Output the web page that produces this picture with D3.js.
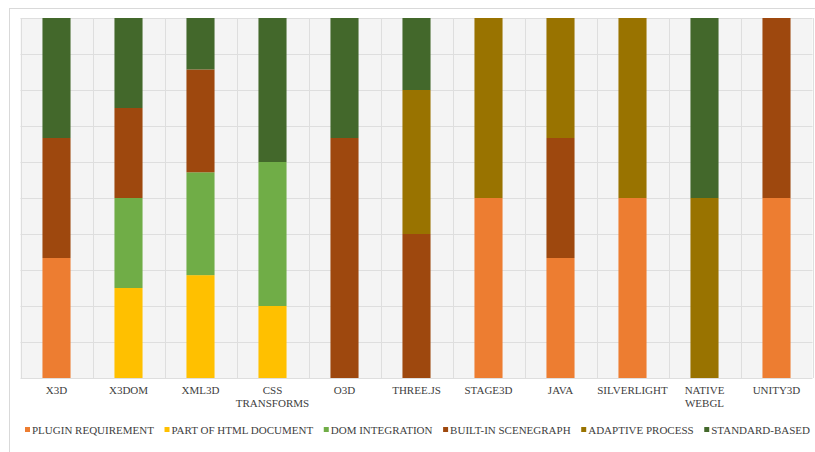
<!DOCTYPE html>
<html>
<head>
<meta charset="utf-8">
<script src="https://cdnjs.cloudflare.com/ajax/libs/d3/7.8.5/d3.min.js"></script>
<style>
  body { margin: 0; background: #fff; }
  svg text { font-family: "Liberation Serif", "DejaVu Serif", serif; }
</style>
</head>
<body>
<svg id="chart" width="815" height="452"></svg>
<script>
const categories = ["X3D", "X3DOM", "XML3D", "CSS TRANSFORMS", "O3D", "THREE.JS", "STAGE3D", "JAVA", "SILVERLIGHT", "NATIVE WEBGL", "UNITY3D"];
// two-line labels as shown under the axis
const catLines = [["X3D"], ["X3DOM"], ["XML3D"], ["CSS", "TRANSFORMS"], ["O3D"], ["THREE.JS"], ["STAGE3D"], ["JAVA"], ["SILVERLIGHT"], ["NATIVE", "WEBGL"], ["UNITY3D"]];

const seriesNames = ["PLUGIN REQUIREMENT", "PART OF HTML DOCUMENT", "DOM INTEGRATION", "BUILT-IN SCENEGRAPH", "ADAPTIVE PROCESS", "STANDARD-BASED"];
const plugin     = [1, 0, 0, 0, 0, 0, 1, 1, 1, 0, 1];
const htmlDoc    = [0, 1, 2, 1, 0, 0, 0, 0, 0, 0, 0];
const domInt     = [0, 1, 2, 2, 0, 0, 0, 0, 0, 0, 0];
const scenegraph = [1, 1, 2, 0, 2, 2, 0, 1, 0, 0, 1];
const adaptive   = [0, 0, 0, 0, 0, 2, 1, 1, 1, 1, 0];
const standard   = [1, 1, 1, 2, 1, 1, 0, 0, 0, 1, 0];
const colors = ["#ED7D31", "#FFC000", "#70AD47", "#9E480E", "#997300", "#43682B"];

const seriesValues = [plugin, htmlDoc, domInt, scenegraph, adaptive, standard];
const rows = categories.map((c, i) => {
    let r = {cat: c};
    seriesNames.forEach((s, j) => { r[s] = seriesValues[j][i]; });
    return r;
});

const svg = d3.select("#chart");
const margin = {left: 20.5, right: 2.5, top: 18, bottom: 74};
const W = 815, H = 452;

// outer chart border
svg.append("rect")
    .attr("x", 9.5).attr("y", 8.5)
    .attr("width", 820).attr("height", 460)
    .attr("fill", "#fff")
    .attr("stroke", "#d9d9d9");

const x = d3.scaleBand()
    .domain(categories)
    .range([margin.left, W - margin.right])
    .paddingInner(0.61)
    .paddingOuter(0.305);

const y = d3.scaleLinear()
    .domain([0, 1])
    .range([H - margin.bottom, margin.top]);

// plot background
svg.append("rect")
    .attr("x", margin.left).attr("y", margin.top)
    .attr("width", W - margin.right - margin.left)
    .attr("height", H - margin.bottom - margin.top)
    .attr("fill", "#f4f4f4");

// horizontal grid
svg.append("g")
    .selectAll("line")
    .data(y.ticks(10))
    .join("line")
    .attr("x1", margin.left).attr("x2", W - margin.right)
    .attr("y1", d => Math.round(y(d)) + 0.5).attr("y2", d => Math.round(y(d)) + 0.5)
    .attr("stroke", "#dedede");

// vertical grid at band edges
const step = x.step();
const edges = d3.range(categories.length + 1).map(i => margin.left + i * step);
svg.append("g")
    .selectAll("line")
    .data(edges)
    .join("line")
    .attr("x1", d => Math.round(d) + 0.5).attr("x2", d => Math.round(d) + 0.5)
    .attr("y1", margin.top).attr("y2", H - margin.bottom)
    .attr("stroke", "#dedede");

const stack = d3.stack()
    .keys(seriesNames)
    .offset(d3.stackOffsetExpand);
const stacked = stack(rows);

svg.append("g")
    .selectAll("g")
    .data(stacked)
    .join("g")
    .attr("fill", (d, i) => colors[i])
    .selectAll("rect")
    .data(d => d)
    .join("rect")
    .attr("x", d => x(d.data.cat))
    .attr("width", x.bandwidth())
    .attr("y", d => y(d[1]))
    .attr("height", d => y(d[0]) - y(d[1]));

// category labels
const lab = svg.append("g")
    .selectAll("text")
    .data(categories)
    .join("text")
    .attr("x", d => x(d) + x.bandwidth() / 2)
    .attr("y", 394)
    .attr("text-anchor", "middle")
    .attr("fill", "#404040")
    .style("font-size", "11px");
lab.each(function(d, i) {
    d3.select(this).selectAll("tspan")
        .data(catLines[i])
        .join("tspan")
        .attr("x", x(d) + x.bandwidth() / 2)
        .attr("dy", (t, k) => k === 0 ? 0 : "1.2em")
        .text(t => t);
});

// legend, spread to fill the width from x=25 to x=810
const legend = svg.append("g").attr("transform", "translate(25,434)");
const items = seriesNames.map((s, i) => {
    const g = legend.append("g");
    g.append("rect")
        .attr("x", 0).attr("y", -7)
        .attr("width", 5).attr("height", 5)
        .attr("fill", colors[i]);
    const t = g.append("text")
        .attr("x", 7).attr("y", 0)
        .attr("fill", "#404040")
        .style("font-size", "11px")
        .text(s);
    return {g: g, w: 7 + t.node().getComputedTextLength()};
});
const total = d3.sum(items, d => d.w);
const gap = Math.max(4, (785 - total) / (items.length - 1));
let lx = 0;
items.forEach(it => {
    it.g.attr("transform", `translate(${lx},0)`);
    lx += it.w + gap;
});
</script>
</body>
</html>
